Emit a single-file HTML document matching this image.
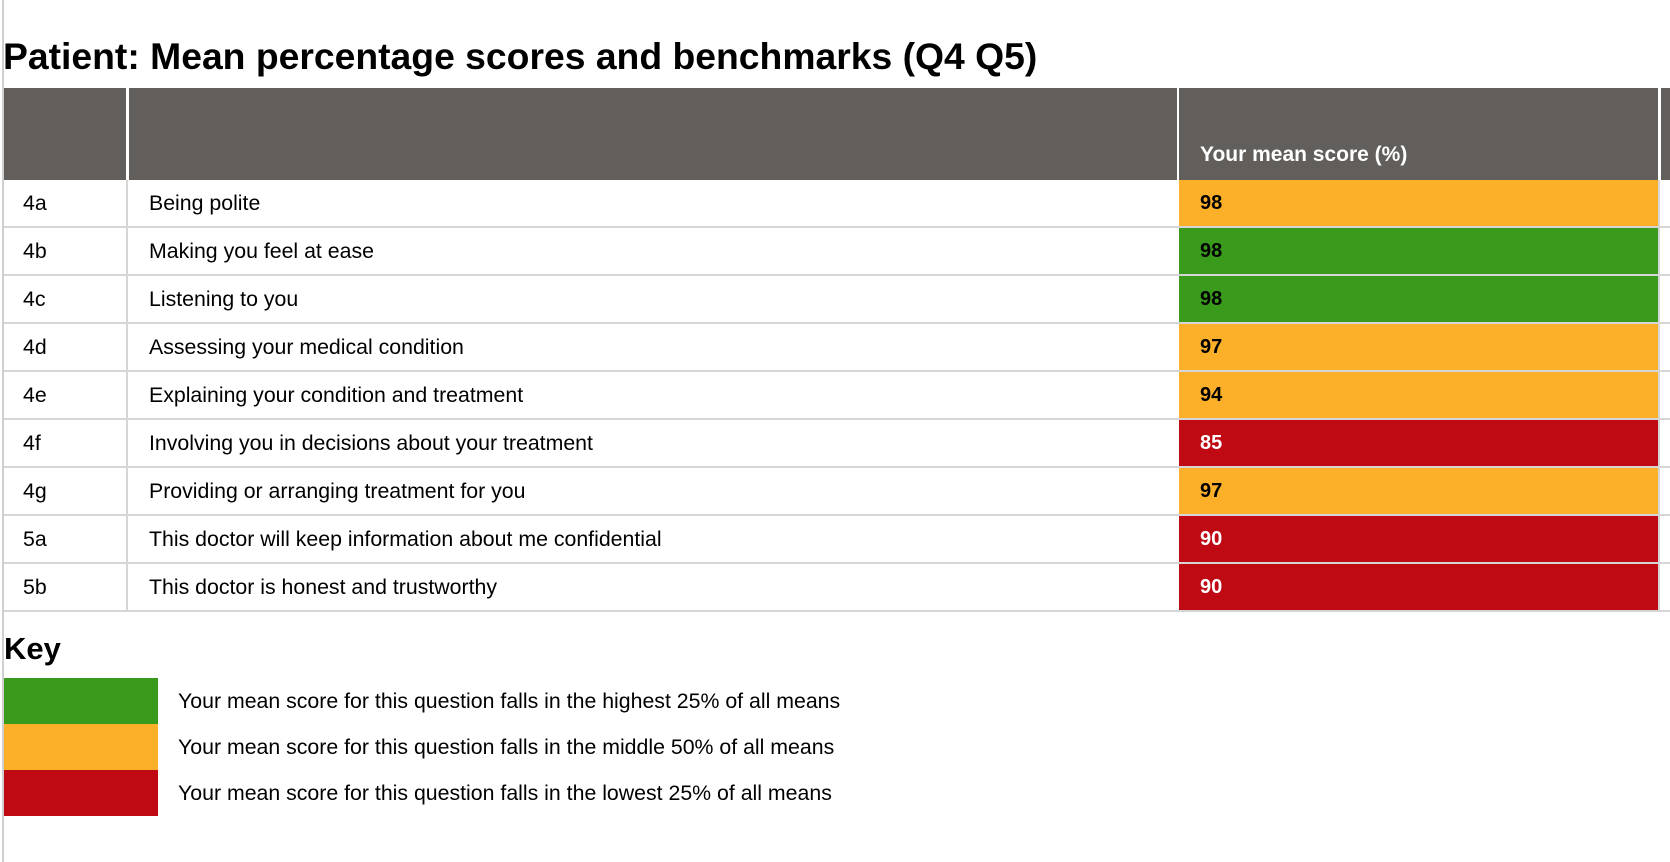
<!DOCTYPE html>
<html><head><meta charset="utf-8">
<style>
html,body{margin:0;padding:0;background:#fff;width:1670px;height:862px;overflow:hidden;font-family:"Liberation Sans",Arial,sans-serif;}
#wrap{position:relative;width:1670px;height:862px;}
.abs{position:absolute;}
.edge{left:2px;top:0;width:2px;height:862px;background:#cfcfcf;}
h1{position:absolute;left:3px;top:35px;margin:0;font-size:37.3px;font-weight:bold;color:#000;white-space:nowrap;}
.hdr{background:#625e5b;top:88px;height:92px;}
.hdrtext{position:absolute;left:1200px;top:143px;color:#fff;font-weight:bold;font-size:21px;white-space:nowrap;}
.cell{position:absolute;box-sizing:border-box;font-size:21.3px;color:#000;white-space:nowrap;line-height:46px;}
.score{font-weight:bold;padding-left:21px;font-size:20px;}
.key{left:4px;top:631px;font-size:31px;font-weight:bold;}
.keybox{left:4px;width:154px;height:46px;}
.keytext{left:178px;font-size:21.3px;white-space:nowrap;line-height:46px;}
</style></head>
<body>
<div id="wrap">
<div class="abs edge"></div>
<h1>Patient: Mean percentage scores and benchmarks (Q4 Q5)</h1>
<div class="abs hdr" style="left:4px;width:122px;"></div>
<div class="abs hdr" style="left:129px;width:1048px;"></div>
<div class="abs hdr" style="left:1179px;width:479px;"></div>
<div class="abs hdr" style="left:1661px;width:9px;"></div>
<div class="hdrtext">Your mean score (%)</div>
<div id="rows"></div>
<div class="abs key">Key</div>
<div class="abs keybox" style="top:678px;background:#3a9a1b;"></div>
<div class="abs keybox" style="top:724px;background:#fcb02a;"></div>
<div class="abs keybox" style="top:770px;background:#bf0a13;"></div>
<div class="abs keytext" style="top:678px;">Your mean score for this question falls in the highest 25% of all means</div>
<div class="abs keytext" style="top:724px;">Your mean score for this question falls in the middle 50% of all means</div>
<div class="abs keytext" style="top:770px;">Your mean score for this question falls in the lowest 25% of all means</div>
</div>
<script>
const ids = ["4a","4b","4c","4d","4e","4f","4g","5a","5b"];
const questions = ["Being polite","Making you feel at ease","Listening to you","Assessing your medical condition","Explaining your condition and treatment","Involving you in decisions about your treatment","Providing or arranging treatment for you","This doctor will keep information about me confidential","This doctor is honest and trustworthy"];
const scores = [98,98,98,97,94,85,97,90,90];
const bands = ["middle","highest","highest","middle","middle","lowest","middle","lowest","lowest"];
const bandColor = {highest:"#3a9a1b", middle:"#fcb02a", lowest:"#bf0a13"};
const bandText = {highest:"#000", middle:"#000", lowest:"#fff"};
const rowsEl = document.getElementById('rows');
const top0 = 180, pitch = 48, rowH = 46;
function mk(cls, left, width, top, text){
  const d = document.createElement('div');
  d.className = 'cell ' + cls;
  d.style.left = left + 'px'; d.style.width = width + 'px';
  d.style.top = top + 'px'; d.style.height = rowH + 'px';
  if (text !== undefined) d.textContent = text;
  rowsEl.appendChild(d);
  return d;
}
ids.forEach((id, i) => {
  const y = top0 + i * pitch;
  const line = document.createElement('div');
  line.className = 'abs';
  line.style.cssText = 'left:4px;width:1666px;height:2px;background:#d6d6d6;top:' + (y + rowH) + 'px;';
  
  
  rowsEl.appendChild(line);
  const vl = document.createElement('div');
  vl.className = 'abs';
  vl.style.cssText = 'left:126px;width:2px;height:' + rowH + 'px;background:#d6d6d6;top:' + y + 'px;';
  
  
  rowsEl.appendChild(vl);
  const vr = document.createElement('div');
  vr.className = 'abs';
  vr.style.cssText = 'left:1658px;width:2px;height:' + rowH + 'px;background:#d6d6d6;top:' + y + 'px;';
  
  
  rowsEl.appendChild(vr);
  const c1 = mk('', 23, 100, y, id);
  
  
  const c2 = mk('', 149, 1020, y, questions[i]);
  
  
  const c3 = mk('score', 1179, 479, y, String(scores[i]));
  c3.style.background = bandColor[bands[i]];
  c3.style.color = bandText[bands[i]];
  
  
});
</script>
</body></html>
